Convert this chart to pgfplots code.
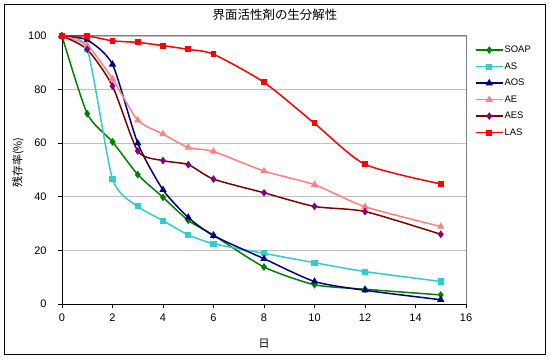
\documentclass[border=0pt]{standalone}
\usepackage{pgfplots}
\pgfplotsset{compat=1.18}
\usepackage{fontspec}
\setmainfont{Liberation Sans}
\newfontfamily\jp{Noto Sans CJK JP}
\definecolor{cSOAP}{RGB}{0,128,0}
\definecolor{cAS}{RGB}{51,204,204}
\definecolor{cAOS}{RGB}{0,0,128}
\definecolor{cAE}{RGB}{255,128,128}
\definecolor{cAES}{RGB}{128,0,0}
\definecolor{cAESm}{RGB}{128,0,128}
\definecolor{cLAS}{RGB}{255,0,0}
\definecolor{gridgray}{RGB}{192,192,192}
\definecolor{framegray}{RGB}{128,128,128}
\pgfplotstableread{
x SOAP AS AOS AE AES LAS
0 100 100 100 100 100 100
1 71 95 98.5 96.5 95 100
2 60.5 46.7 89.4 84 81.3 98.2
3 48.3 36.4 60 68.6 57.1 97.6
4 39.8 31.1 42.6 63.4 53.5 96.4
5 31.2 25.8 32.3 58.4 52 95
6 25.7 22.5 25.5 56.9 46.6 93.2
8 13.8 18.9 16.9 49.6 41.5 82.7
10 7.2 15.4 8.4 44.5 36.4 67.4
12 5.5 12.1 5.1 36.3 34.5 52.1
15 3.4 8.4 1.6 28.9 26 44.8
}\datatable
\begin{document}
\begin{tikzpicture}[x=1bp,y=1bp]
\useasboundingbox (0,0) rectangle (550,359);
\draw[line width=1bp] (4.5,4.5) rectangle (545.5,354.5);
\node[font=\jp\fontsize{12.5}{14}\selectfont] at (275,344) {界面活性剤の生分解性};
\node[font=\jp\fontsize{11}{13}\selectfont, rotate=90] at (18,196.5) {残存率(\%)};
\node[font=\jp\fontsize{11}{13}\selectfont] at (264,15) {日};
\begin{axis}[
  at={(62bp,55bp)}, anchor=south west,
  scale only axis, width=404bp, height=268bp,
  xmin=0, xmax=16, ymin=0, ymax=100,
  xtick={0,2,...,16}, ytick={0,20,...,100},
  axis lines=left, axis line style={-, black, line width=1bp},
  tick align=outside, major tick length=4bp,
  tick style={black, line width=0.8bp},
  ymajorgrids, grid style={gridgray, line width=0.8bp},
  /pgf/number format/assume math mode=true,
  tick label style={font=\fontsize{11}{13}\selectfont},
  xticklabel style={yshift=-2bp},
  yticklabel style={xshift=-8bp},
  clip=false,
  legend style={draw=none, fill=none, at={(1.0223,0.964)}, anchor=north west,
    inner sep=0pt, outer sep=0pt, row sep=7.5bp, column sep=1bp,
    font=\fontsize{9.5}{10}\selectfont,
    nodes={text height=7bp, text depth=2bp, inner sep=0pt, anchor=west}},
  legend cell align=left,
  legend image code/.code={\draw[#1, mark repeat=2, mark phase=2] plot coordinates {(0bp,0bp) (13.5bp,0bp) (27bp,0bp)};},
  every axis plot/.append style={line width=1.5bp, smooth, tension=0.4, mark options={solid}},
]
\draw[framegray, line width=1bp] (rel axis cs:0,1) -- (rel axis cs:1,1) -- (rel axis cs:1,0);
\addplot[color=cSOAP, mark=diamond*, mark size=2.7bp] table[x=x, y=SOAP] {\datatable};
\addlegendentry{SOAP}
\addplot[color=cAS, mark=square*, mark size=2.3bp] table[x=x, y=AS] {\datatable};
\addlegendentry{AS}
\addplot[color=cAOS, mark=triangle*, mark size=2.8bp] table[x=x, y=AOS] {\datatable};
\addlegendentry{AOS}
\addplot[color=cAE, mark=triangle*, mark size=2.8bp] table[x=x, y=AE] {\datatable};
\addlegendentry{AE}
\addplot[color=cAES, mark=diamond*, mark size=2.7bp, mark options={fill=cAESm, draw=cAESm}] table[x=x, y=AES] {\datatable};
\addlegendentry{AES}
\addplot[color=cLAS, mark=square*, mark size=2.2bp] table[x=x, y=LAS] {\datatable};
\addlegendentry{LAS}
\end{axis}
\end{tikzpicture}
\end{document}
